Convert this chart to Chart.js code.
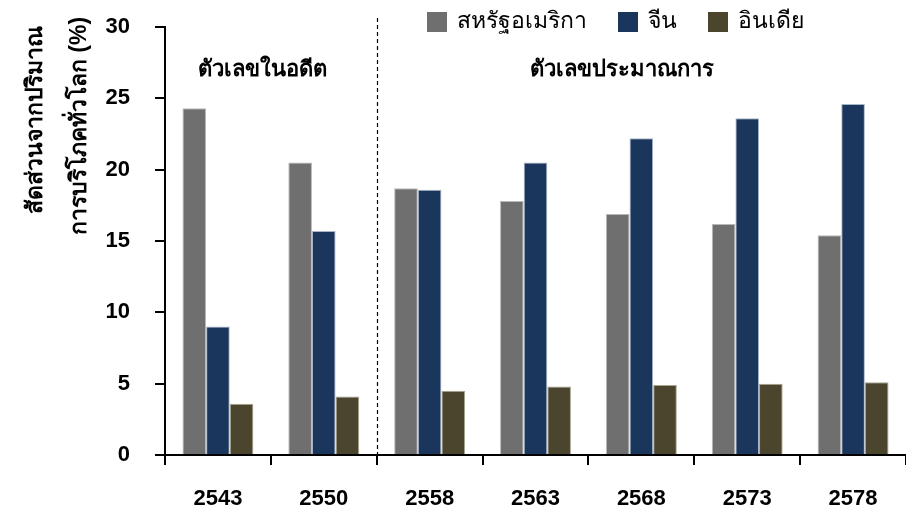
<!DOCTYPE html>
<html>
<head>
<meta charset="utf-8">
<script src="https://cdn.jsdelivr.net/npm/chart.js@4"></script>
<style>
  html, body { margin: 0; padding: 0; background: #fff; }
  #wrap { width: 906px; height: 514px; }
</style>
</head>
<body>
<div id="wrap"><canvas id="chart" width="906" height="514"></canvas></div>
<script>
const years = ['2543', '2550', '2558', '2563', '2568', '2573', '2578'];
const usa = [24.3, 20.5, 18.7, 17.8, 16.9, 16.2, 15.4];
const china = [9.0, 15.7, 18.6, 20.5, 22.2, 23.6, 24.6];
const india = [3.6, 4.1, 4.5, 4.8, 4.9, 5.0, 5.1];
const seriesNames = ['สหรัฐอเมริกา', 'จีน', 'อินเดีย'];
const yTitle = ['สัดส่วนจากปริมาณ', 'การบริโภคทั่วโลก (%)'];
const periodLabels = ['ตัวเลขในอดีต', 'ตัวเลขประมาณการ'];

const FONT = '"Liberation Sans", Arial, sans-serif';

// legend, dashed divider, period captions, y title
const extras = {
    id: 'extras',
    afterDraw(chart) {
        const ctx = chart.ctx;
        const x = chart.scales.x;
        const area = chart.chartArea;
        ctx.save();

        // divider between history and forecast
        const divX = Math.round(x.getPixelForValue(1.5)) + 0.5;
        ctx.strokeStyle = '#000';
        ctx.lineWidth = 1.2;
        ctx.setLineDash([4, 3]);
        ctx.beginPath();
        ctx.moveTo(divX, 18);
        ctx.lineTo(divX, area.bottom);
        ctx.stroke();
        ctx.setLineDash([]);

        // period captions
        ctx.fillStyle = '#000';
        ctx.font = 'bold 22px ' + FONT;
        ctx.textAlign = 'center';
        ctx.textBaseline = 'middle';
        ctx.fillText(periodLabels[0], x.getPixelForValue(0.42), 70);
        ctx.fillText(periodLabels[1], x.getPixelForValue(3.82), 70);

        // y axis title, two rotated lines
        ctx.font = 'bold 23px ' + FONT;
        ctx.save();
        ctx.translate(36, 120);
        ctx.rotate(-Math.PI / 2);
        ctx.fillText(yTitle[0], 0, 0);
        ctx.restore();
        ctx.save();
        ctx.translate(80, 126);
        ctx.rotate(-Math.PI / 2);
        ctx.fillText(yTitle[1], 0, 0);
        ctx.restore();

        // legend
        ctx.font = '23px ' + FONT;
        ctx.textAlign = 'left';
        let lx = 427;
        chart.data.datasets.forEach(ds => {
            ctx.fillStyle = ds.backgroundColor;
            ctx.fillRect(lx, 12, 20, 20);
            ctx.fillStyle = '#000';
            ctx.fillText(ds.label, lx + 30, 22);
            lx += 30 + ctx.measureText(ds.label).width + 31;
        });
        ctx.restore();
    }
};

new Chart(document.getElementById('chart'), {
    type: 'bar',
    data: {
        labels: years,
        datasets: [
            { label: seriesNames[0], data: usa, backgroundColor: '#6f6f6f', borderColor: '#b8b8b8' },
            { label: seriesNames[1], data: china, backgroundColor: '#1b365d', borderColor: '#a9b6c8' },
            { label: seriesNames[2], data: india, backgroundColor: '#4b452d', borderColor: '#a9a68f' }
        ]
    },
    options: {
        responsive: false,
        animation: false,
        devicePixelRatio: 1,
        layout: { padding: { top: 27, right: 0, left: 0, bottom: 0 } },
        datasets: {
            bar: { borderWidth: 1, barPercentage: 1.0, categoryPercentage: 0.67 }
        },
        plugins: {
            legend: { display: false },
            tooltip: { enabled: false }
        },
        scales: {
            x: {
                grid: { display: true, drawOnChartArea: false, offset: true, tickLength: 10, color: '#000', lineWidth: 2 },
                border: { color: '#000', width: 2 },
                ticks: { color: '#000', font: { family: FONT, size: 22, weight: 'bold' }, padding: 21, maxRotation: 0 },
                afterFit(scale) { scale.height = 59; }
            },
            y: {
                min: 0,
                max: 30,
                grid: { drawOnChartArea: false, tickLength: 10, color: '#000', lineWidth: 2 },
                border: { color: '#000', width: 2 },
                ticks: { stepSize: 5, color: '#000', font: { family: FONT, size: 22, weight: 'bold' }, padding: 25 },
                afterFit(scale) {
                    scale.width = 165;
                    scale.paddingTop = 0;
                    scale.paddingBottom = 0;
                }
            }
        }
    },
    plugins: [extras]
});
</script>
</body>
</html>
